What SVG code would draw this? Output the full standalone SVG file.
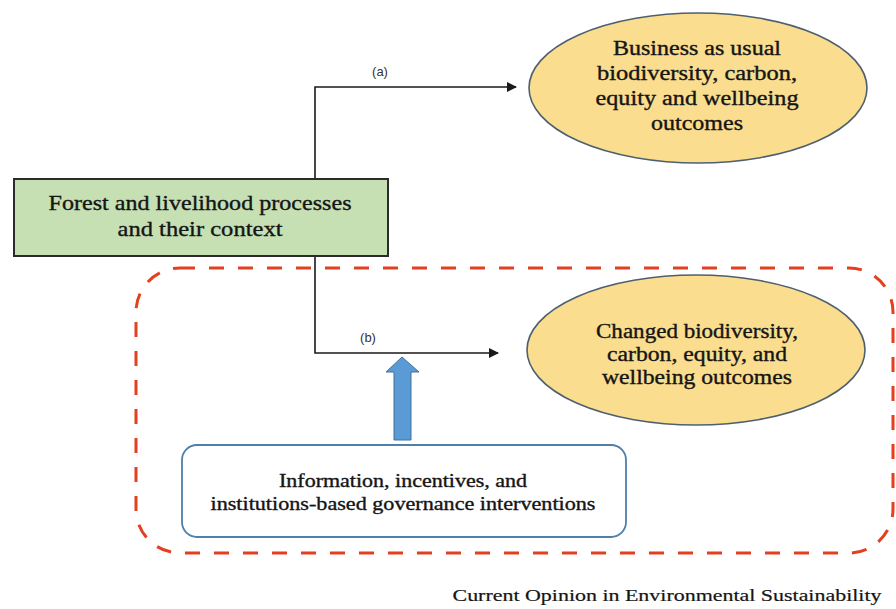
<svg xmlns="http://www.w3.org/2000/svg" width="896" height="609" viewBox="0 0 896 609">
<style>
.t{font-family:"Liberation Serif","Times New Roman",serif;fill:#151515;stroke:#151515;stroke-width:0.35;text-anchor:middle}
.lbl{font-family:"Liberation Sans",Arial,sans-serif;font-size:13px;fill:#333;text-anchor:middle}
.ell{fill:#fadd8e;stroke:#4d6070;stroke-width:1.6}
.conn{fill:none;stroke:#1a1a1a;stroke-width:1.6}
</style>
<defs>
<marker id="ah" viewBox="0 0 10 10" refX="9" refY="5" markerWidth="10" markerHeight="10" markerUnits="userSpaceOnUse" orient="auto">
<path d="M0,0 L10,5 L0,10 Z" fill="#1a1a1a"/>
</marker>
</defs>
<rect width="896" height="609" fill="#ffffff"/>
<g id="scope">
<rect x="136" y="268" width="757" height="285" rx="44" ry="44" fill="none" stroke="#e2401f" stroke-width="3" stroke-dasharray="15 14"/>
</g>
<g id="connectors">
<path class="conn" d="M315,179 L315,87 L516,87" marker-end="url(#ah)"/>
<path class="conn" d="M315,256 L315,353 L498,353" marker-end="url(#ah)"/>
<text class="lbl" x="380" y="76">(a)</text>
<text class="lbl" x="368" y="342">(b)</text>
<polygon points="394,440 411,440 411,372 419,372 402,357 386,372 394,372" fill="#5b9bd5" stroke="#41719c" stroke-width="1"/>
</g>
<g id="forest">
<rect x="14" y="179" width="374" height="77" fill="#c6e0b4" stroke="#2b2b2b" stroke-width="2"/>
<text class="t" font-size="21" x="200" y="210" textLength="303" lengthAdjust="spacingAndGlyphs">Forest and livelihood processes</text>
<text class="t" font-size="21" x="200" y="236" textLength="165" lengthAdjust="spacingAndGlyphs">and their context</text>
</g>
<g id="bau">
<ellipse class="ell" cx="698" cy="88" rx="169" ry="75"/>
<text class="t" font-size="20" x="697" y="55" textLength="168" lengthAdjust="spacingAndGlyphs">Business as usual</text>
<text class="t" font-size="20" x="697" y="80" textLength="200" lengthAdjust="spacingAndGlyphs">biodiversity, carbon,</text>
<text class="t" font-size="20" x="697" y="105" textLength="203" lengthAdjust="spacingAndGlyphs">equity and wellbeing</text>
<text class="t" font-size="20" x="697" y="130" textLength="92" lengthAdjust="spacingAndGlyphs">outcomes</text>
</g>
<g id="changed">
<ellipse class="ell" cx="696" cy="350" rx="169" ry="75"/>
<text class="t" font-size="20" x="697" y="338" textLength="202" lengthAdjust="spacingAndGlyphs">Changed biodiversity,</text>
<text class="t" font-size="20" x="697" y="361" textLength="180" lengthAdjust="spacingAndGlyphs">carbon, equity, and</text>
<text class="t" font-size="20" x="697" y="384" textLength="190" lengthAdjust="spacingAndGlyphs">wellbeing outcomes</text>
</g>
<g id="interventions">
<rect x="182" y="445" width="444" height="92" rx="15" ry="15" fill="#ffffff" stroke="#4f7fab" stroke-width="1.8"/>
<text class="t" font-size="18" x="403" y="487" textLength="248" lengthAdjust="spacingAndGlyphs">Information, incentives, and</text>
<text class="t" font-size="18" x="403" y="510" textLength="385" lengthAdjust="spacingAndGlyphs">institutions-based governance interventions</text>
</g>
<text class="t" font-size="17" x="667" y="601" textLength="429" lengthAdjust="spacingAndGlyphs" style="stroke-width:0.2">Current Opinion in Environmental Sustainability</text>
</svg>
